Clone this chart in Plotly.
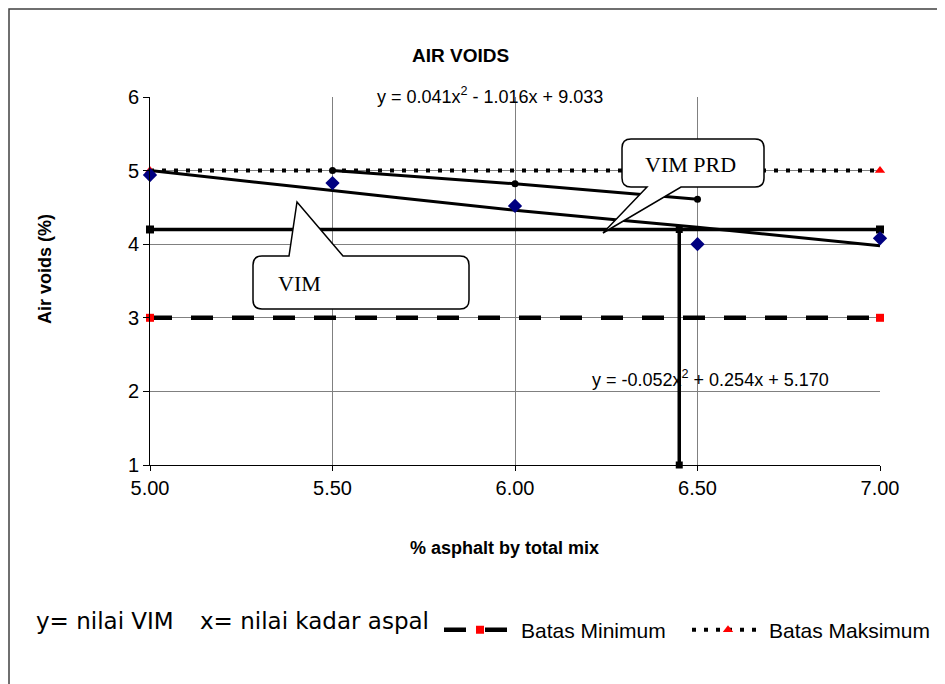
import plotly.graph_objects as go

# Measured data (% asphalt vs air voids)
asphalt = [5.0, 5.5, 6.0, 6.5, 7.0]
vim = [4.94, 4.83, 4.52, 4.00, 4.08]

# VIM trend curve
vim_trend_x = [5.0, 5.5, 6.0, 6.5, 7.0]
vim_trend_y = [5.00, 4.73, 4.46, 4.23, 3.98]

# VIM PRD points
prd_x = [5.5, 6.0, 6.5]
prd_y = [5.00, 4.82, 4.61]

# design target lines
target_x = [5.0, 7.0]
target_y = [4.2, 4.2]
opt_x = [6.45, 6.45]
opt_y = [4.2, 1.0]

# specification limits
limit_x = [5.0, 7.0]
batas_min = [3.0, 3.0]
batas_max = [5.0, 5.0]

x_ticks = [5.0, 5.5, 6.0, 6.5, 7.0]
x_ticktext = ["5.00", "5.50", "6.00", "6.50", "7.00"]
y_ticks = [1, 2, 3, 4, 5, 6]

# page offset (browser body margin), figure size and plot area in page pixels
OFF = 8
W, H = 945 - OFF, 684 - OFF
L, R, T, B = 150, 880, 97, 465


def paper(px, py):
    return (px - L) / (R - L), (B - py) / (B - T)


def pt(px, py):
    x, y = paper(px, py)
    return f"{x:.5f},{y:.5f}"


def callout(x0, y0, x1, y1, bl, br, tip, top_tail, r=9):
    """Rounded box with a pointer, coordinates in page pixels."""
    p = [f"M{pt(x0 + r, y0)}"]
    if top_tail:
        p += [f"L{pt(bl, y0)}", f"L{pt(*tip)}", f"L{pt(br, y0)}"]
    p += [f"L{pt(x1 - r, y0)}", f"Q{pt(x1, y0)} {pt(x1, y0 + r)}",
          f"L{pt(x1, y1 - r)}", f"Q{pt(x1, y1)} {pt(x1 - r, y1)}"]
    if not top_tail:
        p += [f"L{pt(br, y1)}", f"L{pt(*tip)}", f"L{pt(bl, y1)}"]
    p += [f"L{pt(x0 + r, y1)}", f"Q{pt(x0, y1)} {pt(x0, y1 - r)}",
          f"L{pt(x0, y0 + r)}", f"Q{pt(x0, y0)} {pt(x0 + r, y0)}", "Z"]
    return " ".join(p)


ARIAL = "Arial, Liberation Sans, sans-serif"
SERIF = "Times New Roman, Liberation Serif, serif"
CALIBRI = "DejaVu Sans, sans-serif"

fig = go.Figure()

fig.add_trace(go.Scatter(
    x=limit_x, y=batas_min, mode="lines+markers", name="Batas Minimum",
    line=dict(color="black", width=4.5, dash="22px,19px"),
    marker=dict(color="red", symbol="square", size=8), cliponaxis=False,
))
fig.add_trace(go.Scatter(
    x=limit_x, y=batas_max, mode="lines+markers", name="Batas Maksimum",
    line=dict(color="black", width=4, dash="4px,8px"),
    marker=dict(color="red", symbol="triangle-up", size=9), cliponaxis=False,
))
fig.add_trace(go.Scatter(
    x=target_x, y=target_y, mode="lines+markers", showlegend=False,
    line=dict(color="black", width=3.5),
    marker=dict(color="black", symbol="square", size=8), cliponaxis=False,
))
fig.add_trace(go.Scatter(
    x=opt_x, y=opt_y, mode="lines+markers", showlegend=False,
    line=dict(color="black", width=3.5),
    marker=dict(color="black", symbol="square", size=7), cliponaxis=False,
))
fig.add_trace(go.Scatter(
    x=vim_trend_x, y=vim_trend_y, mode="lines", showlegend=False,
    line=dict(color="black", width=3, shape="spline"),
))
fig.add_trace(go.Scatter(
    x=prd_x, y=prd_y, mode="lines+markers", showlegend=False,
    line=dict(color="black", width=3, shape="spline"),
    marker=dict(color="black", size=7), cliponaxis=False,
))
fig.add_trace(go.Scatter(
    x=asphalt, y=vim, mode="markers", showlegend=False,
    marker=dict(color="#000080", symbol="diamond", size=11), cliponaxis=False,
))

annotations = [
    dict(text="<b>AIR VOIDS</b>", pos=(460, 55), size=19, font=ARIAL),
    dict(text="<b>% asphalt by total mix</b>", pos=(504, 548), size=18, font=ARIAL),
    dict(text="y = 0.041x<sup>2</sup> - 1.016x + 9.033", pos=(490, 96), size=18, font=ARIAL),
    dict(text="y = -0.052x<sup>2</sup> + 0.254x + 5.170", pos=(710, 378), size=18, font=ARIAL),
    dict(text="VIM PRD", pos=(690, 164), size=22, font=SERIF),
    dict(text="VIM", pos=(299, 283), size=22, font=SERIF),
]

for a in annotations:
    x, y = paper(*a["pos"])
    fig.add_annotation(
        x=x, y=y, xref="paper", yref="paper", text=a["text"], showarrow=False,
        xanchor="center", yanchor="middle",
        font=dict(family=a["font"], size=a["size"], color="black"),
    )

x, y = paper(45, 269)
fig.add_annotation(
    x=x, y=y, xref="paper", yref="paper", text="<b>Air voids (%)</b>",
    showarrow=False, textangle=-90, xanchor="center", yanchor="middle",
    font=dict(family=ARIAL, size=18, color="black"),
)

for text, px in [("y= nilai VIM", 34), ("x= nilai kadar aspal", 198)]:
    x, y = paper(px, 621)
    fig.add_annotation(
        x=x, y=y, xref="paper", yref="paper", text=text, showarrow=False,
        xanchor="left", yanchor="middle",
        font=dict(family=CALIBRI, size=23, color="black"),
    )

shapes = [
    dict(type="path", xref="paper", yref="paper",
         path=callout(622, 139, 764, 187, 647, 681, (603, 233), top_tail=False),
         line=dict(color="black", width=1.5), fillcolor="white"),
    dict(type="path", xref="paper", yref="paper",
         path=callout(253, 256, 469, 309, 289, 343, (297, 202), top_tail=True),
         line=dict(color="black", width=1.5), fillcolor="white"),
]
bx0, by0 = paper(OFF + 1, OFF + 1)
bx1, by1 = paper(960, 700)
shapes.append(dict(type="rect", xref="paper", yref="paper", x0=bx0, y0=by1,
                   x1=bx1, y1=by0, line=dict(color="#404040", width=1.5),
                   layer="below"))

lx, ly = paper(439, 630)
fig.update_layout(
    width=W, height=H,
    margin=dict(l=L - OFF, r=W - (R - OFF), t=T - OFF, b=H - (B - OFF),
                autoexpand=False),
    paper_bgcolor="white", plot_bgcolor="white",
    shapes=shapes,
    showlegend=True,
    legend=dict(
        orientation="h", x=lx, y=ly, xanchor="left", yanchor="middle",
        font=dict(family=ARIAL, size=21, color="black"),
        itemwidth=72, entrywidth=161, entrywidthmode="pixels",
        bgcolor="rgba(0,0,0,0)",
    ),
)

fig.update_xaxes(
    range=[5.0, 7.0], tickvals=x_ticks, ticktext=x_ticktext,
    showgrid=True, gridcolor="#808080", gridwidth=1,
    showline=True, linecolor="black", linewidth=1,
    ticks="outside", ticklen=5, tickcolor="black",
    tickfont=dict(family=ARIAL, size=20, color="black"),
    zeroline=False,
)
fig.update_yaxes(
    range=[1, 6], tickvals=y_ticks,
    showgrid=True, gridcolor="#808080", gridwidth=1,
    showline=True, linecolor="black", linewidth=1,
    ticks="outside", ticklen=6, tickcolor="black",
    tickfont=dict(family=ARIAL, size=20, color="black"),
    zeroline=False,
)

fig.write_html("out.html")
